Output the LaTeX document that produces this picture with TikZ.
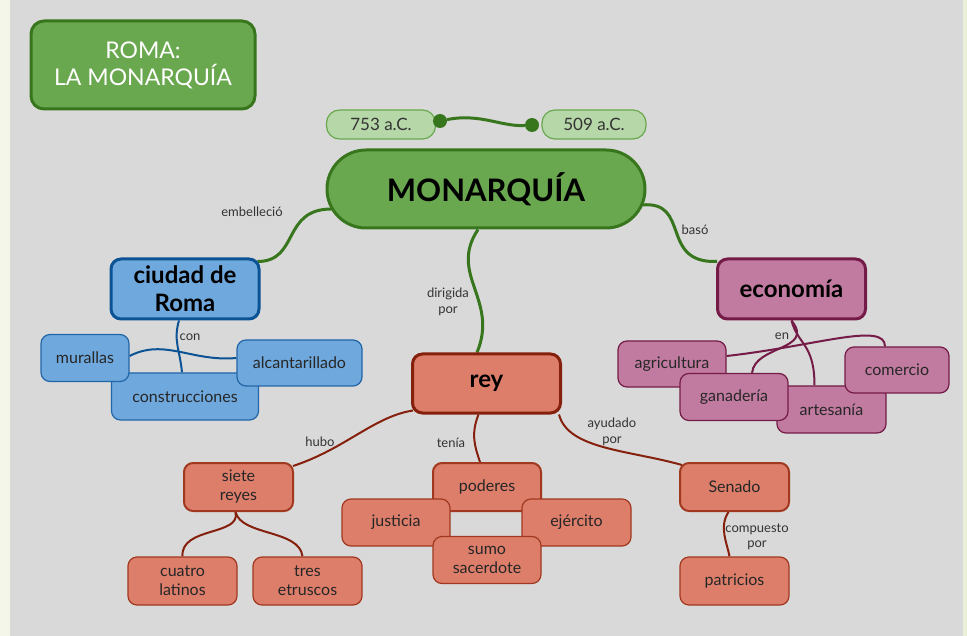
\documentclass[tikz,border=0pt]{standalone}
\usepackage{fontspec}
\setmainfont{Lato}
\usetikzlibrary{calc}

\pgfdeclarelayer{fondo}
\pgfdeclarelayer{enlaces}
\pgfsetlayers{fondo,enlaces,main}

\definecolor{gris}{HTML}{D9D9D9}
\definecolor{crema}{HTML}{F4F6EA}
\definecolor{cremav}{HTML}{EAF0D8}
\definecolor{verde}{HTML}{6AA84F}
\definecolor{verdeosc}{HTML}{38761D}
\definecolor{verdecla}{HTML}{B6D7A8}
\definecolor{azul}{HTML}{6FA8DC}
\definecolor{azulosc}{HTML}{0B5394}
\definecolor{azulbor}{HTML}{2166A8}
\definecolor{rosa}{HTML}{C27BA0}
\definecolor{rosaosc}{HTML}{741B47}
\definecolor{roja}{HTML}{DD7E6B}
\definecolor{rojaosc}{HTML}{85200C}
\definecolor{rojabor}{HTML}{A0391F}
\definecolor{texto}{HTML}{333333}

\begin{document}
\begin{tikzpicture}[x=1pt, y=-1pt]

	\tikzstyle{caja}=[rectangle, rounded corners=9pt, inner sep=0pt, align=center, text=black!85, font=\fontsize{16}{19}\selectfont, line width=1.2pt]
	\tikzstyle{grande}=[caja, line width=3pt, rounded corners=10pt, text=black, font=\fontsize{24}{28}\selectfont\bfseries]
	\tikzstyle{hijo_a}=[caja, fill=azul, draw=azulbor, minimum width=88, minimum height=47]
	\tikzstyle{hijo_p}=[caja, fill=rosa, draw=rosaosc, minimum width=108, minimum height=47]
	\tikzstyle{hijo_r}=[caja, fill=roja, draw=rojabor, minimum width=109, minimum height=48]
	\tikzstyle{fecha}=[caja, fill=verdecla, draw=verde, rounded corners=13pt, minimum height=29, text=texto, font=\fontsize{17}{20}\selectfont]
	\tikzstyle{punto}=[circle, fill=verdeosc, inner sep=0pt, minimum size=14]
	\tikzstyle{etiq}=[align=center, inner sep=0pt, text=texto, font=\fontsize{13}{15.5}\selectfont]
	\tikzstyle{e_verde}=[verdeosc, line width=3pt]
	\tikzstyle{e_azul}=[azulosc, line width=2pt]
	\tikzstyle{e_rosa}=[rosaosc, line width=2pt]
	\tikzstyle{e_roja}=[rojaosc, line width=2pt]

	% FONDO
	\begin{pgfonlayer}{fondo}
		\fill[crema] (0,0) rectangle (967,636);
		\fill[gris] (10,0) rectangle (963,636);
		\fill[cremav] (963,0) rectangle (967,636);
	\end{pgfonlayer}
	\useasboundingbox (0,0) rectangle (967,636);

	% TITULO
	\node[grande, fill=verde, draw=verdeosc, rounded corners=13pt, minimum width=224, minimum height=88, text=white, font=\fontsize{23}{27}\selectfont] (titulo) at (143,65) {ROMA:\\LA MONARQUÍA};

	% FECHAS
	\node[fecha, minimum width=109] (f_1) at (381,124.5) {753 a.C.};
	\node[fecha, minimum width=104] (f_2) at (594,124.5) {509 a.C.};
	\node[punto] (d_1) at (440,121) {};
	\node[punto] (d_2) at (532,125) {};

	% CENTRO
	\node[grande, fill=verde, draw=verdeosc, rounded corners=39pt, minimum width=318, minimum height=78, font=\fontsize{31}{36}\selectfont\bfseries] (monarquia) at (486,189) {MONARQUÍA};

	% RAMAS
	\node[grande, fill=azul, draw=azulosc, minimum width=148, minimum height=60] (ciudad) at (185,289) {ciudad de\\Roma};
	\node[grande, fill=rosa, draw=rosaosc, minimum width=148, minimum height=60] (economia) at (791.5,289) {economía};
	\node[grande, fill=roja, draw=rojaosc, minimum width=148, minimum height=59] (rey) at (486.5,383.5) {rey};

	% CIUDAD
	\node[hijo_a, minimum width=147] (construcciones) at (185,396.5) {construcciones};
	\node[hijo_a] (murallas) at (85,358) {murallas};
	\node[hijo_a, minimum width=125, minimum height=46] (alcantarillado) at (299.5,363) {alcantarillado};

	% ECONOMIA
	\node[hijo_p, minimum height=46] (agricultura) at (672,364) {agricultura};
	\node[hijo_p, minimum width=109] (artesania) at (831.5,409.5) {artesanía};
	\node[hijo_p] (ganaderia) at (734,397) {ganadería};
	\node[hijo_p, minimum width=104, minimum height=46] (comercio) at (897,370) {comercio};

	% REY
	\node[hijo_r, line width=2pt] (siete) at (238.5,487) {siete\\reyes};
	\node[hijo_r] (cuatro) at (182.5,581) {cuatro\\latinos};
	\node[hijo_r] (tres) at (307.5,581) {tres\\etruscos};
	\node[hijo_r, line width=2pt, minimum width=108] (poderes) at (487,487) {poderes};
	\node[hijo_r, minimum width=108, minimum height=47] (justicia) at (396,522.5) {justicia};
	\node[hijo_r, minimum height=47] (ejercito) at (576.5,522.5) {ejército};
	\node[hijo_r, minimum width=108, minimum height=47] (sumo) at (487,560) {sumo\\sacerdote};
	\node[hijo_r, line width=2pt] (senado) at (734.5,487) {Senado};
	\node[hijo_r] (patricios) at (734.5,581) {patricios};

	% ETIQUETAS
	\node[etiq] (l_1) at (252,212) {embelleció};
	\node[etiq] (l_2) at (448,302) {dirigida\\por};
	\node[etiq] (l_3) at (695,230) {basó};
	\node[etiq] (l_4) at (190,337) {con};
	\node[etiq] (l_5) at (782,336) {en};
	\node[etiq] (l_6) at (320,442) {hubo};
	\node[etiq] (l_7) at (451,443) {tenía};
	\node[etiq] (l_8) at (612,432) {ayudado\\por};
	\node[etiq] (l_9) at (757,537) {compuesto\\por};

	% ENLACES
	\begin{pgfonlayer}{enlaces}
		\draw[e_verde] (d_1) .. controls +(40,-8) and +(-30,2) .. (d_2);
		\draw[e_verde] ($(monarquia.west)+(6,20)$) .. controls +(-50,0) and +(42,0) .. ($(ciudad.north east)+(-3,4)$);
		\draw[e_verde] ($(monarquia.south)+(-8,0)$) .. controls +(-30,45) and +(22,-53) .. ($(rey.north)+(-9.5,0)$);
		\draw[e_verde] ($(monarquia.east)+(-5,16)$) .. controls +(50,-5) and +(-58,2) .. ($(economia.north west)+(1,4)$);

		\draw[e_azul] ($(ciudad.south)+(-6,0)$) .. controls +(-6,20) and +(-2,-22) .. ($(construcciones.north)+(-3,0)$);
		\draw[e_azul] ($(murallas.east)+(0,-2)$) .. controls +(35,-18) and +(-45,4) .. ($(alcantarillado.west)+(0,-5)$);

		\draw[e_rosa] (economia.south) .. controls +(6,24) and +(0,-42) .. ($(artesania.north)+(-17,0)$);
		\draw[e_rosa] (economia.south) .. controls +(24,30) and +(3,-28) .. ($(ganaderia.north)+(18,0)$);
		\draw[e_rosa] ($(agricultura.east)+(0,-8)$) .. controls +(90,-10) and +(0,-25) .. ($(comercio.north)+(-12,0)$);

		\draw[e_roja] ($(rey.south west)+(2,-4)$) .. controls +(-39,6) and +(52,-17) .. ($(siete.north east)+(-1,4)$);
		\draw[e_roja] ($(rey.south)+(-8,0)$) .. controls +(-8,20) and +(-5,-15) .. ($(poderes.north)+(-7,0)$);
		\draw[e_roja] ($(rey.south east)+(-3,0)$) .. controls +(9,35) and +(-53,-15) .. ($(senado.north west)+(3,3)$);
		\draw[e_roja] ($(siete.south)+(-3,0)$) .. controls +(6,24) and +(-2,-30) .. (cuatro.north);
		\draw[e_roja] ($(siete.south)+(-3,0)$) .. controls +(6,24) and +(-3,-27) .. ($(tres.north)+(-5,0)$);
		\draw[e_roja] ($(senado.south)+(-6,0)$) .. controls +(-10,15) and +(-2,-12) .. ($(patricios.north)+(-5,0)$);
	\end{pgfonlayer}
\end{tikzpicture}
\end{document}
